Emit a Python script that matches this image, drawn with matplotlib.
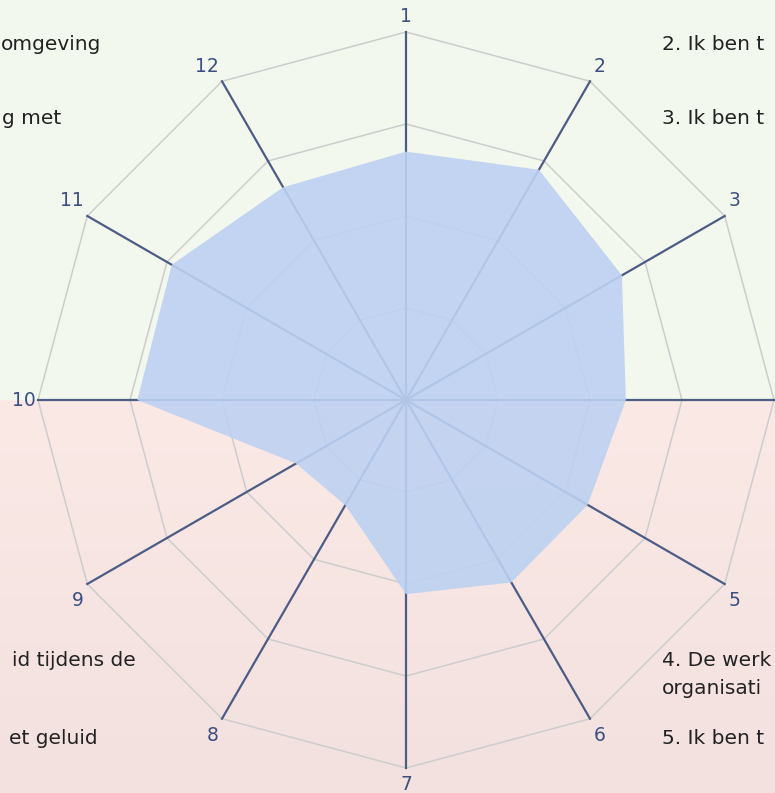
import numpy as np
import matplotlib.pyplot as plt
from matplotlib.colors import ListedColormap, LinearSegmentedColormap

# radar data (scale 0-4, four rings)
axis_labels = ["1", "2", "3", "4", "5", "6", "7", "8", "9", "10", "11", "12"]
scores = [2.70, 2.89, 2.71, 2.39, 2.28, 2.29, 2.11, 1.32, 1.38, 2.92, 2.94, 2.67]
ring_levels = [1, 2, 3, 4]

# legend text fragments (cut off by the figure edge in the original)
left_texts = ["omgeving", "g met", "id tijdens de", "et geluid"]
right_texts = ["2. Ik ben t", "3. Ik ben t", "4. De werk", "organisati", "5. Ik ben t"]

W, H = 775, 793
cx, cy, unit = 406, 400, 92.0

fig = plt.figure(figsize=(W / 100, H / 100), dpi=100)
ax = fig.add_axes([0, 0, 1, 1])
ax.set_xlim(-cx / unit, (W - cx) / unit)
ax.set_ylim(-(H - cy) / unit, cy / unit)
ax.set_aspect("equal")
ax.axis("off")

x0, x1 = ax.get_xlim()
y0, y1 = ax.get_ylim()

# background: green top half, pink gradient bottom half
ax.imshow([[0, 0]], extent=[x0, x1, 0, y1], cmap=ListedColormap(["#f2f8ed"]),
          aspect="auto", zorder=0)
grad = np.linspace(0, 1, 100).reshape(-1, 1)
pink = LinearSegmentedColormap.from_list("p", ["#fbe9e6", "#f2e1df"])
ax.imshow(grad, extent=[x0, x1, y0, 0], cmap=pink, aspect="auto", origin="upper", zorder=0)

n = len(axis_labels)
theta = np.arange(n) * 2 * np.pi / n
sx, sy = np.sin(theta), np.cos(theta)
rmax = ring_levels[-1]

# polygon rings
for lv in ring_levels:
    ax.plot(np.append(sx, sx[0]) * lv, np.append(sy, sy[0]) * lv,
            color="#cdcdcd", lw=1.1, zorder=1)

# spokes
for i in range(n):
    ax.plot([0, sx[i] * rmax], [0, sy[i] * rmax], color="#4d5c85", lw=1.6, zorder=2)

# data polygon
vals = np.array(scores)
ax.fill(sx * vals, sy * vals, color="#bdd1f2", alpha=0.9, lw=0, zorder=3)

# axis number labels
for i, lab in enumerate(axis_labels):
    px, py = sx[i] * rmax, sy[i] * rmax
    if abs(sx[i]) < 1e-6:
        ha, dx = "center", 0
    elif sx[i] > 0:
        ha, dx = "left", 0.04
    else:
        ha, dx = "right", -0.04
    if abs(sy[i]) < 1e-6:
        va, dy = "center", 0
        dx = -0.02 if sx[i] < 0 else 0.02
    elif sy[i] > 0:
        va, dy = "bottom", 0.06
    else:
        va, dy = "top", -0.075
    if not (x0 + 0.2 < px + dx < x1 - 0.2):
        continue  # falls outside the picture, as in the original
    ax.text(px + dx, py + dy, lab, ha=ha, va=va, fontsize=13.5, color="#3c4f80", zorder=4)

# cut-off legend text
left_pos = [(101, 45), (61, 118), (136, 660), (98, 738)]
for t, (px, py) in zip(left_texts, left_pos):
    fig.text(px / W, 1 - py / H, t, ha="right", va="center", fontsize=14.5, color="#222222")

right_pos = [(662, 45), (662, 118), (662, 660), (662, 688), (662, 738)]
for t, (px, py) in zip(right_texts, right_pos):
    fig.text(px / W, 1 - py / H, t, ha="left", va="center", fontsize=14.5, color="#222222")

fig.savefig("out.png", dpi=100)
